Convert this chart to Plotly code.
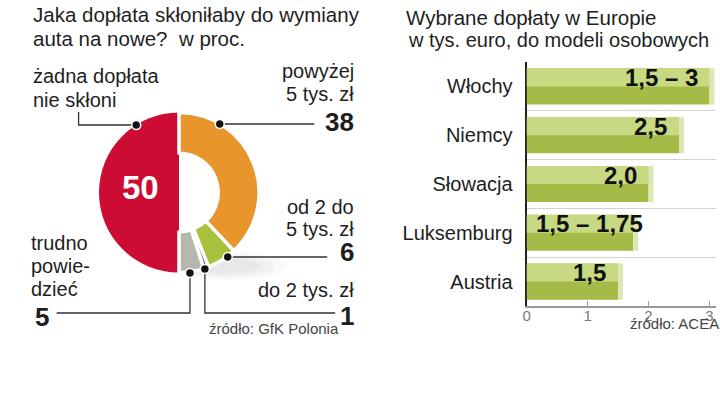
import plotly.graph_objects as go

W, H = 720, 397


def px(x):
    return x / W


def py(y):
    return 1 - y / H


# ---------------- data ----------------
pie_labels = ["powyżej 5 tys. zł", "od 2 do 5 tys. zł", "do 2 tys. zł",
              "trudno powiedzieć", "żadna dopłata nie skłoni"]
pie_values = [38, 6, 1, 5, 50]
pie_colors = ["#e8952b", "#a8c23e", "#4d5a78", "#b6b7af", "#cc0c33"]

countries = ["Włochy", "Niemcy", "Słowacja", "Luksemburg", "Austria"]
bar_values = [3.0, 2.5, 2.0, 1.75, 1.5]
bar_labels = ["1,5 – 3", "2,5", "2,0", "1,5 – 1,75", "1,5"]
x_ticks = [0, 1, 2, 3]

# ---------------- styles ----------------
FONT = "Liberation Sans"
TXT = "#1e1e1e"
label_anchor = ["right", "right", "right", "left", "right"]
CLEAR = "rgba(0,0,0,0)"

fig = go.Figure()

pie_domain = dict(x=[px(95.5), px(256.5)], y=[py(273), py(112)])

# full (no hole) pie: only the red half is visible
fig.add_trace(go.Pie(
    labels=pie_labels, values=pie_values, sort=False, direction="clockwise",
    rotation=0, hole=0,
    marker=dict(colors=[CLEAR] * 4 + [pie_colors[4]], line=dict(width=0)),
    textinfo="none", hoverinfo="skip", showlegend=False, domain=pie_domain,
))
# donut part for the remaining slices
fig.add_trace(go.Pie(
    labels=pie_labels, values=pie_values, sort=False, direction="clockwise",
    rotation=0, hole=0.49,
    marker=dict(colors=pie_colors[:4] + [CLEAR],
                line=dict(color="white", width=[3.5, 3.5, 3.5, 3.5, 0])),
    textinfo="none", hoverinfo="skip", showlegend=False, domain=pie_domain,
))

# bars: dark full body, light top half, light bevel at end
fig.add_trace(go.Bar(
    y=countries, x=bar_values, orientation="h", width=0.74, offset=-0.37,
    marker=dict(color="#a4bb47", line=dict(width=0)), hoverinfo="skip",
    showlegend=False,
))
fig.add_trace(go.Bar(
    y=countries, x=bar_values, orientation="h", width=0.37, offset=-0.37,
    marker=dict(color="#c8d984", line=dict(width=0)), hoverinfo="skip",
    showlegend=False,
))
fig.add_trace(go.Bar(
    y=countries, x=[0.08] * len(countries), base=bar_values, orientation="h",
    width=0.74, offset=-0.37,
    marker=dict(color="#dde7b2", line=dict(width=0)), hoverinfo="skip",
    showlegend=False,
))

annotations = []


def txt(x, y, text, anchor="left", size=20, bold=False, color=TXT, yanchor="middle"):
    # compensate the annotation box padding
    if anchor == "left":
        x -= 3
    elif anchor == "right":
        x += 2
    annotations.append(dict(
        x=px(x), y=py(y), xref="paper", yref="paper", text=text,
        xanchor=anchor, yanchor=yanchor, showarrow=False,
        font=dict(family=FONT, size=size, color=color,
                  weight="bold" if bold else "normal"),
    ))


# left titles
txt(30, 15, "Jaka dopłata skłoniłaby do wymiany", size=20.5)
txt(30, 39, "auta na nowe?\u00a0 w proc.", size=20.5)
# right titles
txt(405, 17, "Wybrane dopłaty w Europie", size=20.5)
txt(407, 40, "w tys. euro, do modeli osobowych", size=20)

# pie labels
txt(30, 76, "żadna dopłata")
txt(30, 100, "nie skłoni")
txt(352, 71, "powyżej", anchor="right")
txt(352, 94, "5 tys. zł", anchor="right")
txt(352, 122, str(pie_values[0]), anchor="right", size=26, bold=True)
txt(137, 188, str(pie_values[4]), anchor="center", size=33, bold=True, color="white")
txt(352, 207, "od 2 do", anchor="right")
txt(352, 229, "5 tys. zł", anchor="right")
txt(352, 252, str(pie_values[1]), anchor="right", size=26, bold=True)
txt(352, 290, "do 2 tys. zł", anchor="right")
txt(352, 316, str(pie_values[2]), anchor="right", size=26, bold=True)
txt(28, 243, "trudno")
txt(28, 266, "powie-")
txt(28, 289, "dzieć")
txt(32, 317, str(pie_values[3]), size=26, bold=True)
txt(207, 328, "źródło: GfK Polonia", size=15, color="#444")
txt(719, 323, "źródło: ACEA", anchor="right", size=15, color="#444")

# bar value labels
for c, v, t, a in zip(countries, bar_values, bar_labels, label_anchor):
    annotations.append(dict(
        x=(v - 0.16) if a == "right" else 0.12, y=c, xref="x", yref="y",
        text=t, xanchor=a, yanchor="middle", yshift=9, showarrow=False,
        font=dict(family=FONT, size=24, color="#111", weight="bold"),
    ))

shapes = []
# soft shadow under the pie
for rx, ry, op in [(62, 14, 0.025), (50, 11, 0.03), (36, 8, 0.035)]:
    cx, cy = 222, 266
    shapes.append(dict(type="circle", xref="paper", yref="paper",
                       x0=px(cx - rx), x1=px(cx + rx), y0=py(cy + ry), y1=py(cy - ry),
                       fillcolor=f"rgba(0,0,0,{op})", line=dict(width=0), layer="below"))


def line(points):
    path = "M " + " L ".join(f"{px(x)},{py(y)}" for x, y in points)
    shapes.append(dict(type="path", xref="paper", yref="paper", path=path,
                       line=dict(color="#333", width=1.3)))


line([(133, 125), (75, 125), (75, 112)])
line([(217, 124), (312, 124)])
line([(225, 257), (325, 257)])
line([(202, 269), (202, 313), (333, 313)])
line([(187, 273), (187, 313), (53, 313)])

for (x, y) in [(133, 125), (217, 124), (225, 257), (202, 269), (187, 273)]:
    r = 4.5
    shapes.append(dict(type="circle", xref="paper", yref="paper",
                       x0=px(x - r), x1=px(x + r), y0=py(y + r), y1=py(y - r),
                       fillcolor="#111", line=dict(color="white", width=1.5)))

fig.update_layout(
    width=W, height=H, autosize=False,
    margin=dict(l=0, r=0, t=0, b=0),
    paper_bgcolor="white", plot_bgcolor="white",
    barmode="overlay",
    annotations=annotations, shapes=shapes,
    font=dict(family=FONT, color=TXT),
    xaxis=dict(
        domain=[px(525.5), px(715.6)], range=[0, 3.1], tickvals=x_ticks,
        ticks="inside", ticklen=5, tickcolor="#999", tickwidth=1.3,
        showline=True, linecolor="#999", linewidth=1.5,
        showgrid=False, zeroline=False, fixedrange=True,
        ticklabelstandoff=-5,
        tickfont=dict(family=FONT, size=15, color="#777"), anchor="y",
    ),
    yaxis=dict(
        domain=[py(306), py(62)], type="category",
        categoryorder="array", categoryarray=countries, range=[4.5, -0.5],
        tickson="boundaries", showgrid=True, gridcolor="#d2d2d2", gridwidth=1,
        showline=True, linecolor="#222", linewidth=2, ticks="",
        ticklabelstandoff=8, layer="below traces", automargin=False,
        tickfont=dict(family=FONT, size=20, color=TXT), anchor="x",
    ),
)

fig.write_html("out.html", config={"displayModeBar": False})

# remove the default page margins so the 720x397 figure fills the window
with open("out.html", encoding="utf-8") as f:
    html = f.read()
html = html.replace(
    "<head>",
    "<head><style>html,body{margin:0;padding:0;overflow:hidden;}</style>", 1)
with open("out.html", "w", encoding="utf-8") as f:
    f.write(html)
